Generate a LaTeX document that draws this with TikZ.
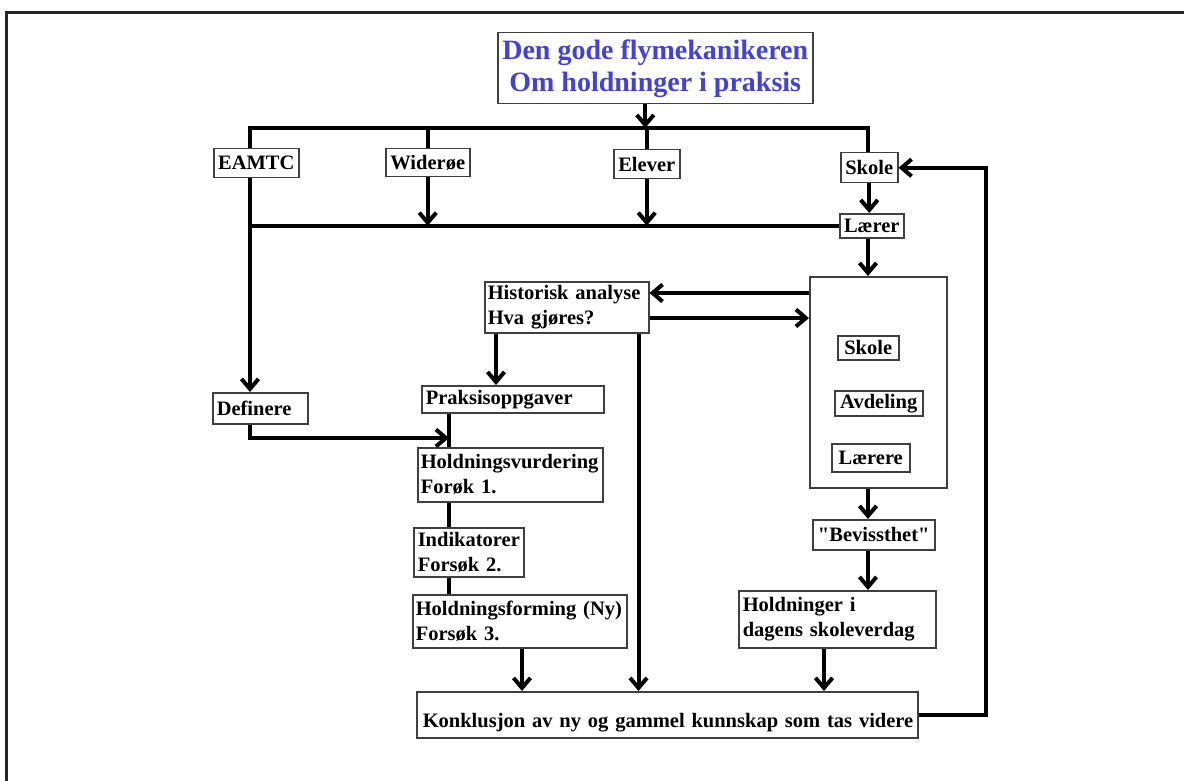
\documentclass[tikz,border=0pt]{standalone}
\usepackage{fontspec}
\setmainfont{Liberation Serif}
\usetikzlibrary{arrows.meta,calc}
\newcommand\bxfont{\bfseries\fontsize{20.5}{25}\selectfont}
\newcommand\hdfont{\bfseries\fontsize{28}{32}\selectfont}
\definecolor{headblue}{RGB}{66,66,214}
\tikzset{
  box/.style={draw=black!75, line width=1.5pt, font=\bxfont, inner xsep=4pt,
    inner ysep=0pt, anchor=north west, align=left},
  cbox/.style={box, align=center},
  ln/.style={line width=4pt, line join=miter},
  arr/.style={ln, -{Straight Barb[length=10pt,width=17pt]}},
  frame/.style={line width=2.5pt, black!85},
}
\begin{document}
\begin{tikzpicture}[x=1pt,y=-1pt]
\useasboundingbox (0,0) rectangle (1184,781);
\draw[frame] (6.5,781) -- (6.5,12.5) -- (1184,12.5);

% heading
\node[cbox, font=\hdfont, text=headblue, minimum width=315pt, minimum height=71pt]
  (title) at (497,32) {Den gode flymekanikeren\\Om holdninger i praksis};

% first row
\node[cbox, minimum width=85pt, minimum height=29pt] (eamtc) at (213,148) {EAMTC};
\node[cbox, minimum width=84pt, minimum height=28pt] (wideroe) at (385,148) {Widerøe};
\node[cbox, minimum width=66pt, minimum height=29pt] (elever) at (613,149) {Elever};
\node[cbox, inner xsep=2pt, minimum width=57pt, minimum height=30pt] (skole) at (840,152) {Skole};
\node[cbox, inner xsep=2pt, minimum width=64pt, minimum height=24pt] (laerer) at (839,213) {Lærer};

% right column
\node[box, minimum width=137pt, minimum height=211pt] (big) at (809,276) {};
\node[cbox, inner xsep=2pt, minimum width=61pt, minimum height=24pt] (iskole) at (837,335) {Skole};
\node[cbox, inner xsep=2pt, minimum width=88pt, minimum height=25pt] (avdeling) at (834,390) {Avdeling};
\node[cbox, inner xsep=2pt, minimum width=78pt, minimum height=28pt] (laerere) at (831,443) {Lærere};
\node[cbox, inner xsep=2pt, minimum width=122pt, minimum height=30pt] (bev) at (812,519) {\textquotedbl Bevissthet\textquotedbl};
\node[box, text width=189pt, minimum height=57pt] (hold) at (738,590) {Holdninger i\\dagens skoleverdag};

% middle column
\node[box, inner xsep=3pt, text width=158pt, minimum height=51pt] (hist) at (484,281) {Historisk analyse\\Hva gjøres?};
\node[box, text width=174pt, minimum height=27pt] (praks) at (421,385) {Praksisoppgaver};
\node[box, text width=87pt, minimum height=31pt] (definere) at (212,392) {Definere};
\node[box, inner xsep=3pt, text width=179pt, minimum height=54pt] (hv) at (417,447) {Holdningsvurdering\\Forøk 1.};
\node[box, text width=102pt, minimum height=49pt] (ind) at (413,527) {Indikatorer\\Forsøk 2.};
\node[box, inner xsep=3pt, text width=208pt, minimum height=53pt] (hf) at (412,594) {Holdningsforming (Ny)\\Forsøk 3.};
\node[box, inner xsep=3pt, inner ysep=5pt, text width=495pt, text height=31pt, text depth=5pt]
  (konk) at (416,691) {\hspace{3pt}Konklusjon av ny og gammel kunnskap som tas videre};

% junction points
\coordinate (busL) at (250,128);
\coordinate (busR) at (868,128);
\coordinate (join) at (449,438);
\coordinate (loop) at (986,0);

% distribution bus
\draw[arr] ([xshift=-10pt]title.south) -- ([xshift=-10pt]title.south |- busL);
\draw[ln] (eamtc.north -| busL) -- (busL) -- (busR) -- (skole.north -| busR);
\draw[ln] (wideroe.north) -- (wideroe.north |- busL);
\draw[ln] (elever.north) -- (elever.north |- busL);

% collecting line
\draw[arr] (wideroe.south) -- (wideroe.south |- laerer.west);
\draw[arr] (elever.south) -- (elever.south |- laerer.west);
\draw[arr] (skole.south) -- (skole.south |- laerer.north);
\draw[ln] (laerer.west -| busL) -- (laerer.west);
\draw[arr] (eamtc.south -| busL) -- (definere.north -| busL);
\draw[arr] (laerer.south -| busR) -- (big.north -| busR);

% analysis exchange
\draw[arr] ([yshift=-17pt]big.north west) -- ([yshift=-17pt]big.north west -| hist.east);
\draw[arr] ([yshift=-37pt]hist.north east) -- ([yshift=-37pt]hist.north east -| big.west);
\draw[arr] ([xshift=12pt]hist.south west) -- ([xshift=12pt]hist.south west |- praks.north);
\draw[arr] ([xshift=-11pt]hist.south east) -- ([xshift=-11pt]hist.south east |- konk.north);

% trial chain
\draw[ln] (praks.south -| join) -- (hv.north -| join);
\draw[ln] (hv.south -| join) -- (ind.north -| join);
\draw[ln] (ind.south -| join) -- (hf.north -| join);
\draw[arr] ([xshift=-10pt]definere.south) |- (join);
\draw[arr] ([xshift=110pt]hf.south west) -- ([xshift=110pt]hf.south west |- konk.north);

% right chain
\draw[arr] (big.south -| busR) -- (bev.north -| busR);
\draw[arr] (bev.south -| busR) -- (hold.north -| busR);
\draw[arr] ([xshift=86pt]hold.south west) -- ([xshift=86pt]hold.south west |- konk.north);

% feedback loop
\draw[arr] (konk.east) -- (konk.east -| loop) -- (loop |- skole.east) -- (skole.east);
\end{tikzpicture}
\end{document}
